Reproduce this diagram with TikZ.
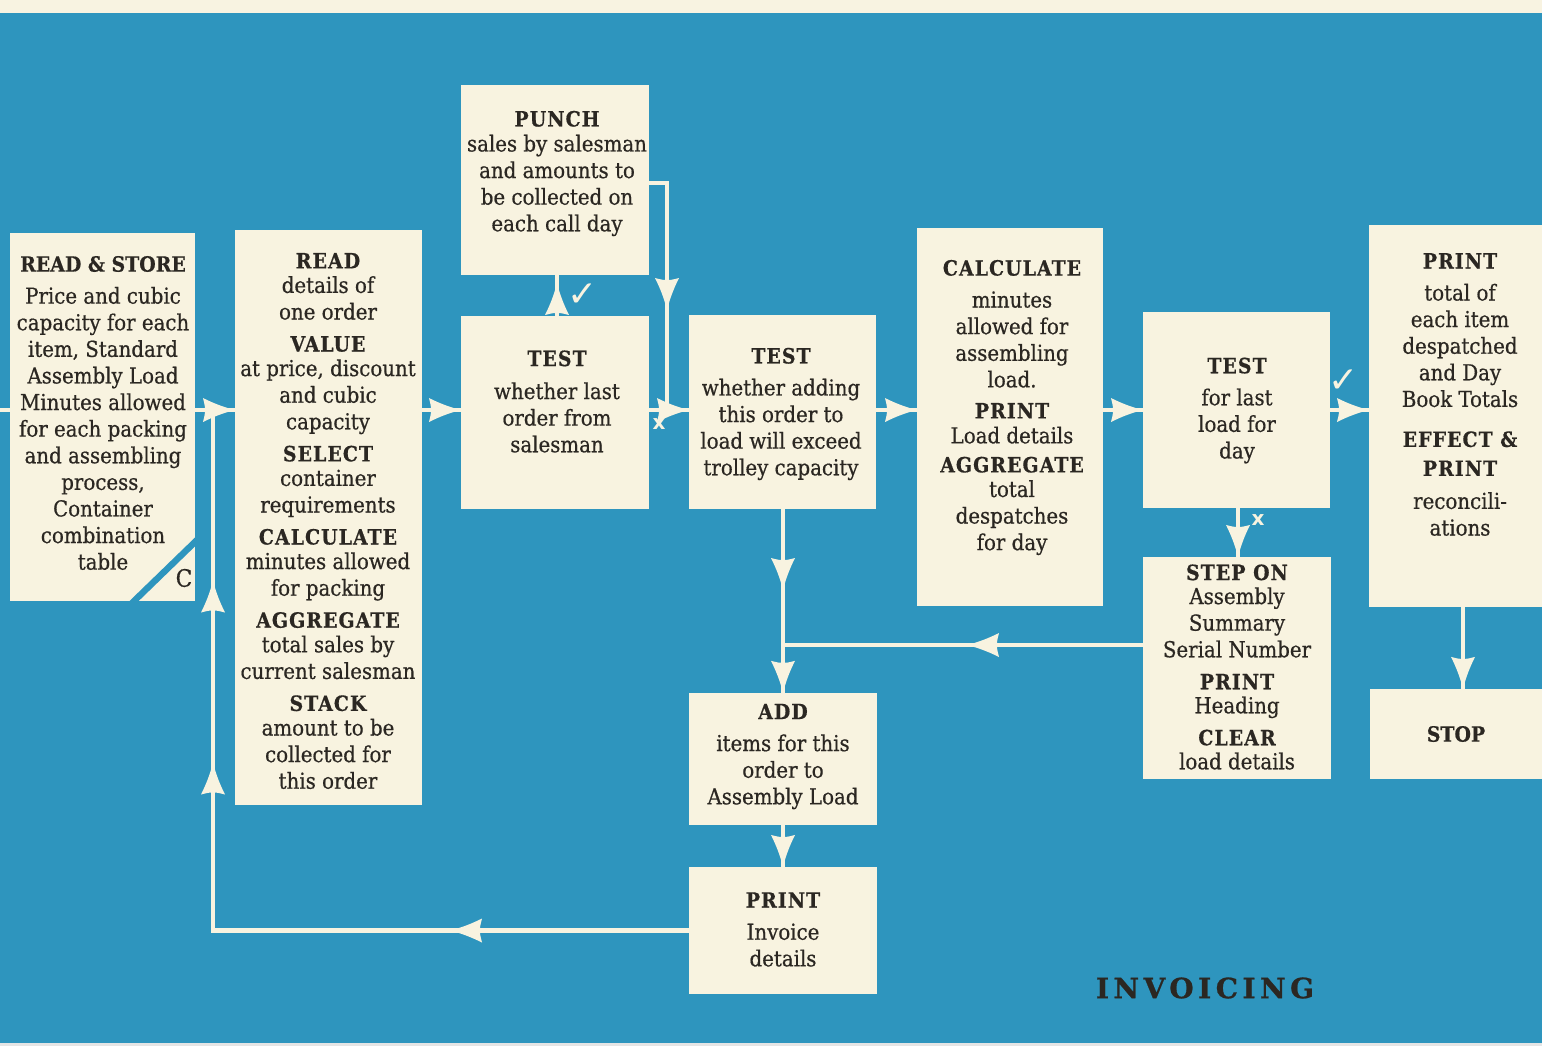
\documentclass[tikz,border=0pt]{standalone}
\usepackage{fontspec}
\setmainfont{DejaVu Serif}
\newfontfamily\bodyfont[FakeBold=0.6]{DejaVu Serif Condensed}
\newfontfamily\hdfont[LetterSpace=5,FakeBold=0.6]{DejaVu Serif Condensed}
\newfontfamily\hdplain[FakeBold=0.6]{DejaVu Serif Condensed}
\newfontfamily\titlefont[LetterSpace=16,FakeBold=0.8]{DejaVu Serif}
\newfontfamily\symfont{DejaVu Sans}
\usetikzlibrary{decorations.markings}
\definecolor{bgblue}{HTML}{2E95BE}
\definecolor{cream}{HTML}{F8F3E0}
\definecolor{ink}{HTML}{2B2722}
\newcommand\hd[1]{{\hdfont\bfseries\fontsize{10.5}{13.3}\selectfont #1}}
\newcommand\hdp[1]{{\hdplain\bfseries\fontsize{10.5}{13.3}\selectfont #1}}
\newcommand\arrowheadshape{\fill[cream] (0pt,0pt) .. controls (-6pt,1.5pt) and (-11pt,3.5pt) .. (-16pt,6pt) .. controls (-15pt,2pt) .. (-15pt,0pt) .. controls (-15pt,-2pt) .. (-16pt,-6pt) .. controls (-11pt,-3.5pt) and (-6pt,-1.5pt) .. cycle;}
\tikzset{
  box/.style={fill=cream, draw=none, inner sep=0pt, outer sep=0pt},
  txt/.style={text=ink, align=center, inner sep=0pt, font=\bodyfont\fontsize{11}{13.3}\selectfont},
  conn/.style={draw=cream, line width=2.2pt},
  headat/.style={postaction={decorate, decoration={markings, mark=at position #1 with {\arrowheadshape}}}},
  chk/.style={text=cream, inner sep=0pt, font=\symfont\fontsize{18}{18}\selectfont},
  xmark/.style={text=cream, inner sep=0pt, font=\symfont\bfseries\fontsize{10}{10}\selectfont},
}
\begin{document}
\begin{tikzpicture}[x=0.5pt,y=-0.5pt]
\clip (0,0) rectangle (1542,1046);
\fill[bgblue] (0,0) rectangle (1542,1046);
\fill[cream!97!white] (0,0) rectangle (1542,13);
\fill[gray!20] (0,1043) rectangle (1542,1046);

% boxes
\node[box, minimum width=92.5pt, minimum height=184pt] (box1) at (102.5,417) {};
\node[box, minimum width=93.5pt, minimum height=287.5pt] (box2) at (328.5,517.5) {};
\node[box, minimum width=94pt, minimum height=95pt] (punch) at (555,180) {};
\node[box, minimum width=94pt, minimum height=96.5pt] (test1) at (555,412.5) {};
\node[box, minimum width=93.5pt, minimum height=97pt] (test2) at (782.5,412) {};
\node[box, minimum width=93pt, minimum height=189pt] (calc) at (1010,417) {};
\node[box, minimum width=93.5pt, minimum height=98pt] (test3) at (1236.5,410) {};
\node[box, minimum width=94pt, minimum height=111pt] (step) at (1237,668) {};
\node[box, minimum width=95.5pt, minimum height=191pt] (printr) at (1464.5,416) {};
\node[box, minimum width=95pt, minimum height=45pt] (stop) at (1465,734) {};
\node[box, minimum width=94pt, minimum height=66pt] (add) at (783,759) {};
\node[box, minimum width=94pt, minimum height=63.5pt] (pinv) at (783,930.5) {};

% corner cut of first box
\coordinate (cutA) at (132,603);
\coordinate (cutB) at (197,540);
\draw[bgblue, line width=3.2pt] (cutA) -- (cutB);
\node[txt, font=\bodyfont\fontsize{12}{12}\selectfont] (ctag) at (184,578) {C};

% texts
\node[txt] (t1) at (103,413) {\hdp{READ \& STORE}\\[2.7pt]
Price and cubic\\ capacity for each\\ item, Standard\\ Assembly Load\\ Minutes allowed\\ for each packing\\ and assembling\\ process,\\ Container\\ combination\\ table};
\node[txt] (t2) at (328,521) {\hd{READ}\\[-1pt] details of\\ one order\\[2.7pt]
\hd{VALUE}\\[-1pt] at price, discount\\ and cubic\\ capacity\\[2.7pt]
\hd{SELECT}\\[-1pt] container\\ requirements\\[2.7pt]
\hd{CALCULATE}\\[-1pt] minutes allowed\\ for packing\\[2.7pt]
\hd{AGGREGATE}\\[-1pt] total sales by\\ current salesman\\[2.7pt]
\hd{STACK}\\[-1pt] amount to be\\ collected for\\ this order};
\node[txt] (tp) at (557,173.5) {\hd{PUNCH}\\[-0.8pt] sales by salesman\\ and amounts to\\ be collected on\\ each call day};
\node[txt] (tt1) at (557,401.5) {\hd{TEST}\\[3.2pt] whether last\\ order from\\ salesman};
\node[txt] (tt2) at (781,414) {\hd{TEST}\\[2.7pt] whether adding\\ this order to\\ load will exceed\\ trolley capacity};
\node[txt] (tc) at (1012,407.5) {\hd{CALCULATE}\\[2.7pt] minutes\\ allowed for\\ assembling\\ load.\\[2.2pt]
\hd{PRINT}\\[-0.8pt] Load details\\[1.2pt] \hd{AGGREGATE}\\[-1pt] total\\ despatches\\ for day};
\node[txt] (tt3) at (1237,410.5) {\hd{TEST}\\[2.7pt] for last\\ load for\\ day};
\node[txt] (ts) at (1237,667) {\hd{STEP ON}\\[-1.3pt] Assembly\\ Summary\\ Serial Number\\[2.7pt]
\hd{PRINT}\\[-1.3pt] Heading\\[2.7pt] \hd{CLEAR}\\[-1.3pt] load details};
\node[txt] (tpr) at (1460,394.5) {\hd{PRINT}\\[2.7pt] total of\\ each item\\ despatched\\ and Day\\ Book Totals\\[6.7pt]
\hd{EFFECT \&}\\[1.2pt] \hd{PRINT}\\[3.2pt] reconcili-\\ ations};
\node[txt] (tstop) at (1456,734) {\hdp{STOP}};
\node[txt] (tadd) at (783,756.5) {\hd{ADD}\\[2.7pt] items for this\\ order to\\ Assembly Load};
\node[txt] (tinv) at (783,929.5) {\hd{PRINT}\\[2.7pt] Invoice\\ details};
\node[text=ink, inner sep=0pt, font=\titlefont\bfseries\fontsize{14}{17}\selectfont] (title) at (1205,988) {INVOICING};

% helper coordinates
\coordinate (row) at (0,410);
\coordinate (entry) at (0,410);
\coordinate (loopx) at (213,0);
\coordinate (colA) at (557,0);
\coordinate (colB) at (667,0);
\coordinate (punchy) at (0,183);
\coordinate (colC) at (1238,0);
\coordinate (colD) at (783,0);
\coordinate (stepy) at (0,645);
\coordinate (colE) at (1463,0);

% connectors
\draw[conn] (entry) -- (box1.west |- row);
\draw[conn, headat=0.999] (box1.east |- row) -- (box2.west |- row);
\draw[conn, headat=119.5pt, headat=322pt, headat=413pt] (pinv.west) -- (pinv.west -| loopx) -- (loopx |- row);
\draw[conn, headat=0.999] (box2.east |- row) -- (test1.west |- row);
\draw[conn, headat=16.5pt] (test1.north -| colA) -- (punch.south -| colA);
\draw[conn, headat=72.5pt] (punch.east |- punchy) -- (colB |- punchy) -- (colB |- row);
\draw[conn, headat=0.999] (test1.east |- row) -- (test2.west |- row);
\draw[conn, headat=0.999] (test2.east |- row) -- (calc.west |- row);
\draw[conn, headat=0.999] (calc.east |- row) -- (test3.west |- row);
\draw[conn, headat=0.999] (test3.east |- row) -- (printr.west |- row);
\draw[conn, headat=0.999] (test3.south -| colC) -- (step.north -| colC);
\draw[conn, headat=88pt] (step.west |- stepy) -- (colD |- stepy);
\draw[conn, headat=40.5pt, headat=0.999] (test2.south -| colD) -- (add.north -| colD);
\draw[conn, headat=0.999] (add.south -| colD) -- (pinv.north -| colD);
\draw[conn, headat=0.999] (printr.south -| colE) -- (stop.north -| colE);

% decision marks
\node[chk] (ck1) at (583,295) {✓};
\node[chk] (ck2) at (1344,381) {✓};
\node[xmark] (x1) at (659,424) {x};
\node[xmark] (x2) at (1258,520) {x};
\end{tikzpicture}
\end{document}
